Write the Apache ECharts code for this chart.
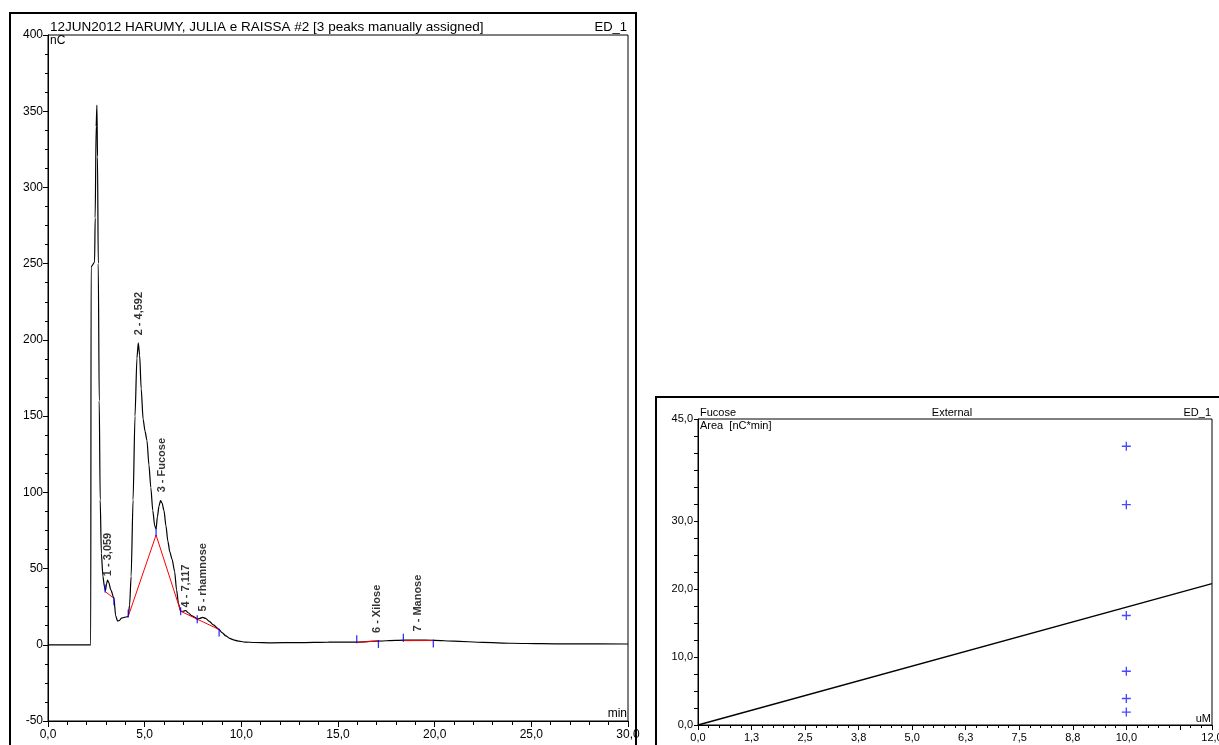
<!DOCTYPE html>
<html>
<head>
<meta charset="utf-8">
<script src="https://cdn.jsdelivr.net/npm/echarts@6/dist/echarts.min.js"></script>
<style>
html,body{margin:0;padding:0;background:#fff;}
#c{width:1219px;height:745px;}
</style>
</head>
<body>
<div id="c"></div>
<script>
// ---- Chromatogram (left) ----
const chromTime = [0,2.21,2.23,2.41,2.44,2.49,2.53,2.56,2.6,2.65,2.7,2.76,2.84,2.92,2.97,3.03,3.08,3.14,3.25,3.41,3.5,3.6,3.7,3.8,3.95,4.1,4.15,4.22,4.3,4.4,4.5,4.6,4.67,4.74,4.82,4.92,5.02,5.12,5.22,5.32,5.42,5.52,5.59,5.66,5.74,5.82,5.9,6.0,6.1,6.2,6.3,6.42,6.55,6.65,6.75,6.86,7.0,7.12,7.25,7.45,7.6,7.72,7.85,8.0,8.15,8.35,8.55,8.85,9.0,9.2,9.4,9.6,9.8,10.2,10.7,11.5,13,14.5,16,17,18,19,20,21,22.5,24,25.5,27,30];
const chromSignal = [0,0,248,251,280,340,354,320,250,160,95,60,45,38,35.5,40,42.5,41,36,30.5,19,15.5,16,17.5,18,18.4,18.6,26,45,95,150,188,198,190,168,148,140,134,118,103,88,78,76,84,91,94.5,93,88,78,68,61,56,48,36,27,22,22,22.5,21,19,18,16.8,17.3,18,17.3,15.3,13,10,8,5.8,4.2,3.2,2.5,1.8,1.5,1.3,1.4,1.7,1.8,2.4,2.9,3.1,2.9,2.4,1.6,1.0,0.7,0.6,0.5];

// integration baselines (red)
const base1Time = [2.95,3.41];            const base1Val = [35,30.5];
const base2Time = [4.15,5.59,6.86,7.72,8.85]; const base2Val = [18.6,72,22,16.8,10];
const base6Time = [15.97,17.09];          const base6Val = [1.6,2.5];
const base7Time = [18.38,19.93];          const base7Val = [2.7,2.8];

// peak delimiters (blue)
const tickUpTime = [2.95,4.15,5.59,15.97,18.38];  const tickUpVal = [35,18.6,72,1.6,2.7];
const tickMidTime = [6.86,7.72];                   const tickMidVal = [22,16.8];
const tickDownTime = [3.41,8.85,17.09,19.93];      const tickDownVal = [30.5,10,2.5,2.8];

// peak labels
const peakNames = ['1 - 3,059','2 - 4,592','3 - Fucose','4 - 7,117','5 - rhamnose','6 - Xilose','7 - Manose'];
const peakLabelTime = [3.12,4.7,5.9,7.14,8.02,17.0,19.14];
const peakLabelVal = [45,203,100,24.5,21.8,7.7,8.7];

// axis settings
const chromYTicks = {min:-50,max:400,interval:50};
const chromXTicks = {min:0,max:30,interval:5};

// ---- Calibration (right) ----
const calAmount = [10,10,10,10,10,10];
const calArea = [41.0,32.4,16.1,7.9,3.9,1.9];
const calLineX = [0,12];
const calLineY = [0,20.8];
const calYLabels = [0,10,20,30,45];

const FONT = "'Liberation Sans', Arial, sans-serif";
const fmt = v => v.toFixed(1).replace('.', ',');
const zip = (a,b) => a.map((x,i)=>[x,b[i]]);

const chart = echarts.init(document.getElementById('c'), null, {renderer:'canvas'});

const txt = (x,y,text,size,align,valign,weight) => ({
  type:'text', x:x, y:y, silent:true,
  style:{text:text, fill:'#000', font:(weight||'normal')+' '+size+'px '+FONT,
         align:align, verticalAlign:valign, textAlign:align, textVerticalAlign:valign}
});

const option = {
  animation:false,
  backgroundColor:'#fff',
  grid:[
    {left:48, top:35, width:580, height:686, containLabel:false, outerBoundsMode:'none',
     show:true, borderColor:'#000', borderWidth:1, backgroundColor:'transparent'},
    {left:698, top:419, width:514, height:306, containLabel:false, outerBoundsMode:'none',
     show:true, borderColor:'#000', borderWidth:1, backgroundColor:'transparent'}
  ],
  xAxis:[
    {type:'value', gridIndex:0, min:chromXTicks.min, max:chromXTicks.max, interval:chromXTicks.interval,
     axisLine:{onZero:false, lineStyle:{color:'#000', width:1}},
     axisTick:{show:true, length:6, lineStyle:{color:'#000'}},
     minorTick:{show:true, splitNumber:5, length:4, lineStyle:{color:'#000'}},
     splitLine:{show:false},
     axisLabel:{color:'#000', fontFamily:FONT, fontSize:12, margin:8, formatter:v=>fmt(v)}},
    {type:'value', gridIndex:1, min:0, max:12, interval:1.25,
     axisLine:{onZero:false, lineStyle:{color:'#000', width:1}},
     axisTick:{show:true, length:5, lineStyle:{color:'#000'}},
     minorTick:{show:true, splitNumber:5, length:3, lineStyle:{color:'#000'}},
     splitLine:{show:false},
     axisLabel:{color:'#000', fontFamily:FONT, fontSize:11, margin:7, showMaxLabel:true,
       formatter:v=> (Math.abs(v-11.25)<1e-6 ? '' : fmt(v))}}
  ],
  yAxis:[
    {type:'value', gridIndex:0, min:chromYTicks.min, max:chromYTicks.max, interval:chromYTicks.interval,
     axisLine:{show:true, onZero:false, lineStyle:{color:'#000', width:1}},
     axisTick:{show:true, length:5, lineStyle:{color:'#000'}},
     minorTick:{show:true, splitNumber:4, length:3, lineStyle:{color:'#000'}},
     splitLine:{show:false},
     axisLabel:{color:'#000', fontFamily:FONT, fontSize:12, margin:5}},
    {type:'value', gridIndex:1, min:0, max:45, interval:2.5,
     axisLine:{show:true, onZero:false, lineStyle:{color:'#000', width:1}},
     axisTick:{show:true, length:4, lineStyle:{color:'#000'}},
     splitLine:{show:false},
     axisLabel:{color:'#000', fontFamily:FONT, fontSize:11, margin:5,
       formatter:v=> (calYLabels.some(l=>Math.abs(l-v)<1e-6) ? fmt(v) : '')}}
  ],
  series:[
    {type:'line', xAxisIndex:0, yAxisIndex:0, data:zip(chromTime,chromSignal), symbol:'none',
     smooth:0.25, smoothMonotone:'x', lineStyle:{color:'#000', width:1.2}, z:3},
    {type:'line', xAxisIndex:0, yAxisIndex:0, data:zip(base1Time,base1Val), symbol:'none', lineStyle:{color:'#ff0000', width:1}, z:4},
    {type:'line', xAxisIndex:0, yAxisIndex:0, data:zip(base2Time,base2Val), symbol:'none', lineStyle:{color:'#ff0000', width:1}, z:4},
    {type:'line', xAxisIndex:0, yAxisIndex:0, data:zip(base6Time,base6Val), symbol:'none', lineStyle:{color:'#ff0000', width:1}, z:4},
    {type:'line', xAxisIndex:0, yAxisIndex:0, data:zip(base7Time,base7Val), symbol:'none', lineStyle:{color:'#ff0000', width:1}, z:4},
    {type:'scatter', xAxisIndex:0, yAxisIndex:0, data:zip(tickUpTime,tickUpVal), symbol:'rect', symbolSize:[1.3,8], symbolOffset:[0,-3], itemStyle:{color:'#0000ff'}, z:5},
    {type:'scatter', xAxisIndex:0, yAxisIndex:0, data:zip(tickMidTime,tickMidVal), symbol:'rect', symbolSize:[1.3,8], itemStyle:{color:'#0000ff'}, z:5},
    {type:'scatter', xAxisIndex:0, yAxisIndex:0, data:zip(tickDownTime,tickDownVal), symbol:'rect', symbolSize:[1.3,8], symbolOffset:[0,3], itemStyle:{color:'#0000ff'}, z:5},
    {type:'scatter', xAxisIndex:0, yAxisIndex:0, symbol:'circle', symbolSize:0.1, itemStyle:{color:'transparent'},
     data:peakNames.map((n,i)=>({name:n, value:[peakLabelTime[i], peakLabelVal[i]]})),
     label:{show:true, position:'inside', rotate:90, align:'left', verticalAlign:'middle',
            formatter:p=>p.name, color:'#000', fontFamily:FONT, fontSize:11, fontWeight:'bold'}, z:6},
    {type:'line', xAxisIndex:1, yAxisIndex:1, data:zip(calLineX,calLineY), symbol:'none', lineStyle:{color:'#000', width:1.3}},
    {type:'scatter', xAxisIndex:1, yAxisIndex:1, data:zip(calAmount,calArea),
     symbol:'path://M3.4,0H4.6V3.4H8V4.6H4.6V8H3.4V4.6H0V3.4H3.4Z', symbolSize:9, itemStyle:{color:'#1a1aff'}}
  ],
  graphic:[
    {type:'rect', shape:{x:10, y:13, width:626, height:760}, style:{fill:'none', stroke:'#000', lineWidth:2}, silent:true},
    {type:'rect', shape:{x:656, y:397, width:600, height:400}, style:{fill:'none', stroke:'#000', lineWidth:2}, silent:true},
    txt(50,34,'12JUN2012 HARUMY, JULIA e RAISSA #2 [3 peaks manually assigned]',13.5,'left','bottom'),
    txt(627,34,'ED_1',13,'right','bottom'),
    txt(50,35,'nC',12,'left','top'),
    txt(627,720,'min',12,'right','bottom'),
    txt(700,418,'Fucose',11,'left','bottom'),
    txt(952,418,'External',11,'center','bottom'),
    txt(1211,418,'ED_1',11,'right','bottom'),
    txt(700,420,'Area  [nC*min]',11,'left','top'),
    txt(1211,724,'uM',11,'right','bottom')
  ]
};
chart.setOption(option);
</script>
</body>
</html>
